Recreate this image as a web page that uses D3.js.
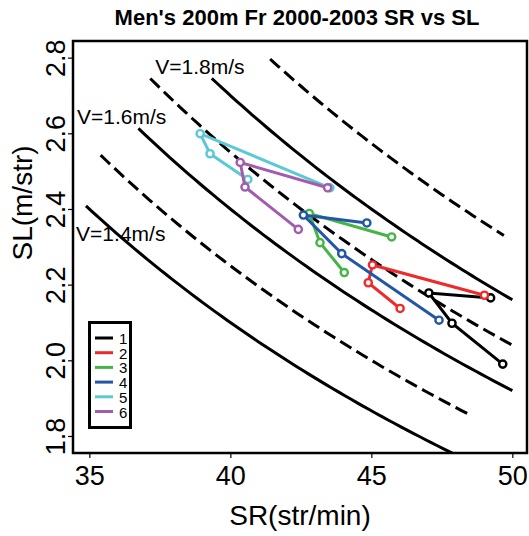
<!DOCTYPE html>
<html lang="en">
<head>
<meta charset="utf-8">
<title>Men's 200m Fr 2000-2003 SR vs SL</title>
<script src="https://d3js.org/d3.v7.min.js"></script>
<style>
  body { margin: 0; background: #fff; }
  text { font-family: "Liberation Sans", Arial, sans-serif; fill: #000; }
</style>
</head>
<body>
<div id="chart"></div>
<script>
// swimmers 1..6, four races each (SR str/min, SL m/str)
var swimmers = ["1", "2", "3", "4", "5", "6"];
var colors = ["#000000", "#ee2b2b", "#45b545", "#2356a6", "#5cc8d6", "#a15cad"];
var sr1 = [49.23, 47.04, 47.86, 49.66], sl1 = [2.165, 2.178, 2.098, 1.990];
var sr2 = [49.01, 45.04, 44.89, 46.02], sl2 = [2.172, 2.252, 2.205, 2.137];
var sr3 = [45.72, 42.80, 43.18, 44.04], sl3 = [2.326, 2.388, 2.311, 2.232];
var sr4 = [44.84, 42.59, 43.95, 47.40], sl4 = [2.363, 2.384, 2.282, 2.106];
var sr5 = [43.53, 38.93, 39.28, 40.62], sl5 = [2.456, 2.599, 2.546, 2.478];
var sr6 = [43.45, 40.35, 40.52, 42.41], sl6 = [2.456, 2.523, 2.458, 2.346];
var srSets = [sr1, sr2, sr3, sr4, sr5, sr6];
var slSets = [sl1, sl2, sl3, sl4, sl5, sl6];

// iso-velocity curves V = SR*SL/60
var vLevels = [1.4, 1.5, 1.6, 1.7, 1.8, 1.93];
var vDashed = [false, true, false, true, false, true];
var vFrom = [34.88, 35.4, 36.74, 37.16, 39.34, 41.41];
var vTo = [48.0, 48.4, 50.0, 50.0, 50.0, 49.7];
var vLabels = ["V=1.4m/s", "V=1.6m/s", "V=1.8m/s"];
var vLabelSR = [34.53, 34.56, 37.34];
var vLabelSL = [2.315, 2.624, 2.758];

var xTicks = [35, 40, 45, 50];
var yTicks = [1.8, 2.0, 2.2, 2.4, 2.6, 2.8];

var W = 529, H = 536;
var mLeft = 73, mRight = 527, mTop = 41, mBottom = 453;

var svg = d3.select("#chart").append("svg")
  .attr("width", W).attr("height", H);

var x = d3.scaleLinear().domain([34.42, 50.52]).range([mLeft, mRight]);
var y = d3.scaleLinear().domain([1.755, 2.844]).range([mBottom, mTop]);

svg.append("clipPath").attr("id", "plotclip")
  .append("rect").attr("x", mLeft).attr("y", mTop)
  .attr("width", mRight - mLeft).attr("height", mBottom - mTop);

// title
svg.append("text")
  .attr("x", 297).attr("y", 25)
  .attr("text-anchor", "middle")
  .style("font-size", "22px").style("font-weight", "bold")
  .text("Men's 200m Fr 2000-2003 SR vs SL");

var plot = svg.append("g").attr("clip-path", "url(#plotclip)");

// velocity curves
var line = d3.line().x(function (d) { return x(d[0]); }).y(function (d) { return y(d[1]); });
vLevels.forEach(function (v, i) {
  var pts = [];
  var n = 60;
  for (var k = 0; k <= n; k++) {
    var sr = vFrom[i] + (vTo[i] - vFrom[i]) * k / n;
    pts.push([sr, 60 * v / sr]);
  }
  plot.append("path")
    .attr("d", line(pts))
    .attr("fill", "none")
    .attr("stroke", "#000")
    .attr("stroke-width", 3)
    .attr("stroke-dasharray", vDashed[i] ? "13,6" : null);
});

vLabels.forEach(function (t, i) {
  svg.append("text")
    .attr("x", x(vLabelSR[i])).attr("y", y(vLabelSL[i]))
    .style("font-size", "21px")
    .text(t);
});

// swimmer paths
swimmers.forEach(function (s, i) {
  var pts = srSets[i].map(function (sr, j) { return [sr, slSets[i][j]]; });
  plot.append("path")
    .attr("d", line(pts))
    .attr("fill", "none")
    .attr("stroke", colors[i])
    .attr("stroke-width", 3);
  plot.selectAll(".pt" + i)
    .data(pts)
    .enter().append("circle")
    .attr("cx", function (d) { return x(d[0]); })
    .attr("cy", function (d) { return y(d[1]); })
    .attr("r", 3.6)
    .attr("fill", "#fff")
    .attr("stroke", colors[i])
    .attr("stroke-width", 2.4);
});

// axes
var xAxis = svg.append("g")
  .attr("transform", "translate(0," + mBottom + ")")
  .call(d3.axisBottom(x).tickValues(xTicks).tickSize(5).tickPadding(4).tickFormat(d3.format("d")));
xAxis.select(".domain").remove();
xAxis.selectAll("line").attr("stroke-width", 1.2);
xAxis.selectAll("text").style("font-size", "27px").attr("dy", "0.85em");

var yAxis = svg.append("g")
  .attr("transform", "translate(" + mLeft + ",0)")
  .call(d3.axisLeft(y).tickValues(yTicks).tickSize(5).tickFormat(d3.format(".1f")));
yAxis.select(".domain").remove();
yAxis.selectAll("line").attr("stroke-width", 1.2);
yAxis.selectAll("text")
  .style("font-size", "27px")
  .attr("x", null).attr("dy", null)
  .attr("text-anchor", "middle")
  .attr("transform", "translate(-8,0) rotate(-90)");

// plot frame
svg.append("rect")
  .attr("x", mLeft).attr("y", mTop)
  .attr("width", mRight - mLeft).attr("height", mBottom - mTop)
  .attr("fill", "none").attr("stroke", "#000").attr("stroke-width", 2.5);

// axis titles
svg.append("text")
  .attr("x", 300).attr("y", 525)
  .attr("text-anchor", "middle")
  .style("font-size", "28px")
  .text("SR(str/min)");
svg.append("text")
  .attr("transform", "translate(32,203) rotate(-90)")
  .attr("text-anchor", "middle")
  .style("font-size", "28px")
  .text("SL(m/str)");

// legend
var lg = svg.append("g");
lg.append("rect")
  .attr("x", 89.5).attr("y", 322.5).attr("width", 41).attr("height", 105)
  .attr("fill", "#fff").attr("stroke", "#000").attr("stroke-width", 3);
swimmers.forEach(function (s, i) {
  var yy = 338 + i * 14.7;
  lg.append("line")
    .attr("x1", 95).attr("x2", 113).attr("y1", yy).attr("y2", yy)
    .attr("stroke", colors[i]).attr("stroke-width", 3);
  lg.append("text")
    .attr("x", 119).attr("y", yy + 6)
    .style("font-size", "15px")
    .text(s);
});
</script>
</body>
</html>
